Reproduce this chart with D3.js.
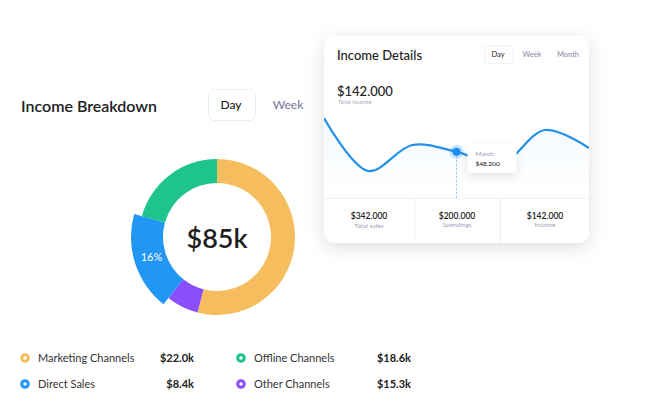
<!DOCTYPE html>
<html><head><meta charset="utf-8">
<script src="https://cdn.jsdelivr.net/npm/d3@7"></script>
<style>html,body{margin:0;padding:0;background:#fff;}svg{display:block;font-family:Lato,"Open Sans",sans-serif;}</style>
</head><body>
<svg id="c" width="647" height="413"></svg>
<script>
// ---- data ----
const segNames = ["Marketing Channels","Other Channels","Direct Sales","Offline Channels"];
const segShares = [54, 6.7, 18.6, 20.7];
const segColors = ["#f5bd5e","#8b4efb","#2196f3","#1ec48c"];
const centerLabel = "$85k";
const highlightLabel = "16%";
const legendNames = ["Marketing Channels","Direct Sales","Offline Channels","Other Channels"];
const legendValues = ["$22.0k","$8.4k","$18.6k","$15.3k"];
const legendColors = ["#f5bd5e","#2196f3","#1ec48c","#8b4efb"];
const months = ["Dec","Jan","Feb","March","Apr","May","Jun"];
const income = [82, 29, 55, 48.2, 36, 70, 52];
const highlightMonth = "March";
const highlightText = "$48.200";
const footerValues = ["$342.000","$200.000","$142.000"];
const footerLabels = ["Total sales","Spendings","Income"];
const tabsLeft = ["Day","Week"];
const tabsCard = ["Day","Week","Month"];

const svg = d3.select("#c");
const defs = svg.append("defs");
const sh = defs.append("filter").attr("id","sh").attr("x","-30%").attr("y","-30%").attr("width","160%").attr("height","170%");
sh.append("feDropShadow").attr("dx",0).attr("dy",4).attr("stdDeviation",9).attr("flood-color","#000").attr("flood-opacity",0.13);
const sh2 = defs.append("filter").attr("id","sh2").attr("x","-40%").attr("y","-40%").attr("width","180%").attr("height","190%");
sh2.append("feDropShadow").attr("dx",0).attr("dy",3).attr("stdDeviation",4).attr("flood-color","#000").attr("flood-opacity",0.10);
const grad = defs.append("linearGradient").attr("id","ag").attr("x1",0).attr("y1",0).attr("x2",0).attr("y2",1);
grad.append("stop").attr("offset","0%").attr("stop-color","#2196f3").attr("stop-opacity",0.05);
grad.append("stop").attr("offset","100%").attr("stop-color","#2196f3").attr("stop-opacity",0.0);

// ---- left title + tabs ----
svg.append("text").attr("x",21).attr("y",112).attr("font-size",16).attr("font-weight",600).attr("fill","#222").text("Income Breakdown");
svg.append("rect").attr("x",208.5).attr("y",89.5).attr("width",47).attr("height",31).attr("rx",6).attr("fill","#fff").attr("stroke","#eeeeee");
svg.append("text").attr("x",231).attr("y",109).attr("text-anchor","middle").attr("font-size",12).attr("font-weight",500).attr("fill","#222").text(tabsLeft[0]);
svg.append("text").attr("x",288).attr("y",109).attr("text-anchor","middle").attr("font-size",12).attr("font-weight",500).attr("fill","#7d7a99").text(tabsLeft[1]);

// ---- donut ----
const cx=217, cy=237, rIn=54, rOut=78, rBig=86;
const pie = d3.pie().sort(null).value(d=>d)(segShares);
const g = svg.append("g").attr("transform",`translate(${cx},${cy})`);
g.selectAll("path").data(pie).join("path")
  .attr("d",(d,i)=>d3.arc().innerRadius(rIn).outerRadius(i===2?rBig:rOut)(d))
  .attr("fill",(d,i)=>segColors[i]);
const lab = d3.arc().innerRadius(rIn).outerRadius(rBig);
const lc = lab.centroid(pie[2]);
g.append("text").attr("x",lc[0]+1).attr("y",lc[1]+2).attr("text-anchor","middle").attr("font-size",11).attr("fill","#fff").text(highlightLabel);
g.append("text").attr("x",0).attr("y",11).attr("text-anchor","middle").attr("font-size",27).attr("font-weight",600).attr("fill","#1f1f1f").text(centerLabel);

// ---- legend ----
legendNames.forEach((n,i)=>{
  const col = Math.floor(i/2), row = i%2;
  const x0 = col===0?25:241, y0 = row===0?362:388;
  const vx = col===0?194:411;
  svg.append("circle").attr("cx",x0).attr("cy",y0-4).attr("r",3.3).attr("fill","#fff").attr("stroke",legendColors[i]).attr("stroke-width",3);
  svg.append("text").attr("x",x0+13).attr("y",y0).attr("font-size",11).attr("fill","#333").text(n);
  svg.append("text").attr("x",vx).attr("y",y0).attr("text-anchor","end").attr("font-size",11).attr("font-weight",700).attr("fill","#222").text(legendValues[i]);
});

// ---- card ----
const card = {x:324,y:36,w:265,h:207};
svg.append("rect").attr("x",card.x).attr("y",card.y).attr("width",card.w).attr("height",card.h).attr("rx",11).attr("fill","#fff").attr("filter","url(#sh)");
defs.append("clipPath").attr("id","cc").append("rect").attr("x",card.x).attr("y",card.y).attr("width",card.w).attr("height",card.h).attr("rx",11);
const cg = svg.append("g").attr("clip-path","url(#cc)");

svg.append("text").attr("x",337).attr("y",60).attr("font-size",13).attr("font-weight",500).attr("fill","#222").text("Income Details");
svg.append("rect").attr("x",484.5).attr("y",45.5).attr("width",29).attr("height",18).attr("rx",3).attr("fill","#fff").attr("stroke","#f1f1f1");
const tabX = [498, 532, 568];
tabsCard.forEach((t,i)=>svg.append("text").attr("x",tabX[i]).attr("y",57).attr("text-anchor","middle").attr("font-size",7.5).attr("fill",i===0?"#222":"#8a87a3").text(t));
svg.append("text").attr("x",337).attr("y",96).attr("font-size",13).attr("font-weight",500).attr("fill","#222").text("$142.000");
svg.append("text").attr("x",338).attr("y",104).attr("font-size",6).attr("fill","#aaa8bb").text("Total income");

// line chart
const x = d3.scalePoint().domain(months).range([card.x, card.x+card.w]);
const y = d3.scaleLinear().domain([0,100]).range([200,100]);
const area = d3.area().x((d,i)=>x(months[i])).y0(198).y1(d=>y(d)).curve(d3.curveCatmullRom.alpha(0.5));
const line = d3.line().x((d,i)=>x(months[i])).y(d=>y(d)).curve(d3.curveCatmullRom.alpha(0.5));
cg.append("path").attr("d",area(income)).attr("fill","url(#ag)");
cg.append("path").attr("d",line(income)).attr("fill","none").attr("stroke","#2490e8").attr("stroke-width",2.2);

const hi = months.indexOf(highlightMonth);
const hx = x(highlightMonth), hy = y(income[hi]);
cg.append("line").attr("x1",hx).attr("x2",hx).attr("y1",hy).attr("y2",198).attr("stroke","#7fb3de").attr("stroke-width",0.8).attr("stroke-dasharray","2,2");
cg.append("circle").attr("cx",hx).attr("cy",hy).attr("r",7).attr("fill","#2196f3").attr("opacity",0.25);
cg.append("circle").attr("cx",hx).attr("cy",hy).attr("r",4).attr("fill","#1e8df0");

// tooltip
cg.append("rect").attr("x",hx+11).attr("y",hy-7).attr("width",49).attr("height",28).attr("fill","#fff").attr("filter","url(#sh2)");
cg.append("text").attr("x",hx+19).attr("y",hy+4).attr("font-size",6.5).attr("fill","#9a98b0").text(highlightMonth);
cg.append("text").attr("x",hx+19).attr("y",hy+14).attr("font-size",6.5).attr("font-weight",500).attr("fill","#222").text(highlightText);

// footer
cg.append("line").attr("x1",card.x).attr("x2",card.x+card.w).attr("y1",198.5).attr("y2",198.5).attr("stroke","#f0f0f2");
cg.append("line").attr("x1",500.5).attr("x2",500.5).attr("y1",199).attr("y2",card.y+card.h).attr("stroke","#f0f0f2");
cg.append("line").attr("x1",415.5).attr("x2",415.5).attr("y1",199).attr("y2",card.y+card.h).attr("stroke","#f8f8f9");
const fx = [369, 457, 545];
footerValues.forEach((v,i)=>{
  svg.append("text").attr("x",fx[i]).attr("y",219).attr("text-anchor","middle").attr("font-size",8.5).attr("font-weight",600).attr("fill","#222").text(v);
  svg.append("text").attr("x",fx[i]).attr("y",i===0?228:227).attr("text-anchor","middle").attr("font-size",6.5).attr("fill","#a5a3b6").text(footerLabels[i]);
});
</script>
</body></html>
